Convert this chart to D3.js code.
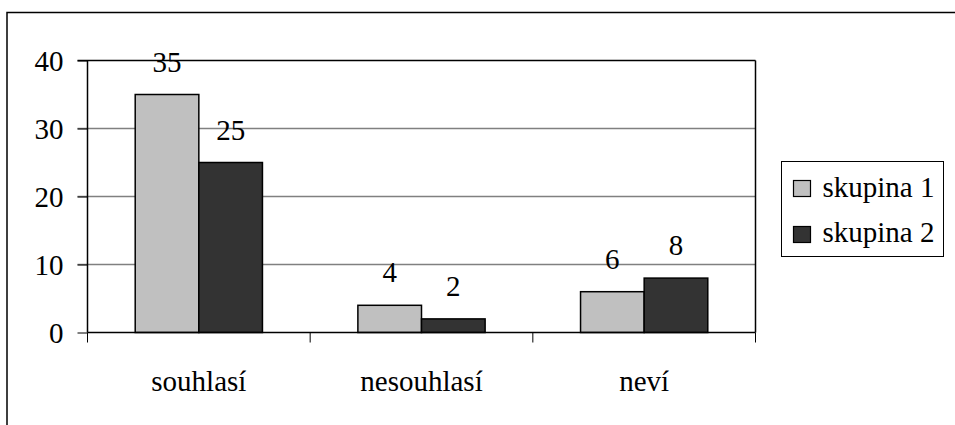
<!DOCTYPE html>
<html>
<head>
<meta charset="utf-8">
<script src="https://cdn.jsdelivr.net/npm/d3@7"></script>
<style>
html,body{margin:0;padding:0;background:#fff;}
svg{display:block;}
</style>
</head>
<body>
<svg id="chart" width="955" height="425"></svg>
<script>
const categories = ["souhlasí", "nesouhlasí", "neví"];
const seriesNames = ["skupina 1", "skupina 2"];
const skupina1 = [35, 4, 6];
const skupina2 = [25, 2, 8];
const yTicks = [0, 10, 20, 30, 40];
const colors = ["#c0c0c0", "#333333"];

const FONT = "Liberation Serif";
const svg = d3.select("#chart");
const plot = {left: 87.5, top: 60.5, right: 755.5, bottom: 332.5};
const fontSize = 29;

svg.append("rect").attr("x", 7).attr("y", 12.5).attr("width", 1000).attr("height", 1000)
  .attr("fill", "none").attr("stroke", "#000").attr("stroke-width", 1.5);

const x0 = d3.scaleBand().domain(categories).range([plot.left, plot.right]).paddingInner(0).paddingOuter(0);
const y = d3.scaleLinear().domain([0, 40]).range([plot.bottom, plot.top]);
const gapRatio = 1.5;
const barW = x0.bandwidth() / (2 + gapRatio);

svg.append("g").selectAll("line").data(yTicks.filter(d => d > 0)).join("line")
  .attr("x1", plot.left - 10).attr("x2", plot.right)
  .attr("y1", d => y(d)).attr("y2", d => y(d))
  .attr("stroke", d => d === 40 ? "#000" : "#808080").attr("stroke-width", 1.5);

svg.append("line").attr("x1", plot.right).attr("x2", plot.right).attr("y1", plot.top).attr("y2", plot.bottom)
  .attr("stroke", "#000").attr("stroke-width", 1.5);

const yAxis = d3.axisLeft(y).tickValues(yTicks).tickSize(10).tickPadding(14);
const ga = svg.append("g").attr("transform", `translate(${plot.left},0)`).call(yAxis);
ga.attr("font-family", FONT).attr("font-size", fontSize);
ga.select(".domain").attr("stroke", "#000").attr("stroke-width", 1.5).attr("d", `M0,${plot.top}V${plot.bottom}`);
ga.selectAll(".tick line").attr("stroke", "#000").attr("stroke-width", 1);
ga.selectAll(".tick text").attr("fill", "#000").attr("dy", "0.36em");

const data = categories.map((c, i) => ({cat: c, vals: [skupina1[i], skupina2[i]]}));
const groups = svg.append("g").selectAll("g").data(data).join("g");
groups.each(function(d) {
  const g = d3.select(this);
  const start = x0(d.cat) + barW * gapRatio / 2;
  d.vals.forEach((v, j) => {
    g.append("rect")
      .attr("x", start + j * barW).attr("y", y(v))
      .attr("width", barW).attr("height", y(0) - y(v))
      .attr("fill", colors[j]).attr("stroke", "#000").attr("stroke-width", 1.5);
    g.append("text")
      .attr("x", start + j * barW + barW / 2).attr("y", y(v) - 23)
      .attr("text-anchor", "middle").attr("font-family", FONT).attr("font-size", fontSize).text(v);
  });
});

const gx = svg.append("g").attr("transform", `translate(0,${plot.bottom})`);
gx.append("line").attr("x1", plot.left).attr("x2", plot.right).attr("y1", 0).attr("y2", 0)
  .attr("stroke", "#000").attr("stroke-width", 1.5);
const boundaries = [plot.left, ...categories.map(c => x0(c) + x0.bandwidth())];
gx.selectAll("line.tk").data(boundaries).join("line").attr("class", "tk")
  .attr("x1", d => d).attr("x2", d => d).attr("y1", 0).attr("y2", 10)
  .attr("stroke", "#000").attr("stroke-width", 1);
gx.selectAll("text.cat").data(categories).join("text").attr("class", "cat")
  .attr("x", d => x0(d) + x0.bandwidth() / 2).attr("y", 58.5)
  .attr("text-anchor", "middle").attr("font-family", FONT).attr("font-size", fontSize).text(d => d);

const lg = svg.append("g");
lg.append("rect").attr("x", 781.5).attr("y", 161.5).attr("width", 162).attr("height", 95)
  .attr("fill", "#fff").attr("stroke", "#000").attr("stroke-width", 1);
seriesNames.forEach((n, j) => {
  lg.append("rect").attr("x", 793.5).attr("y", 180.5 + j * 46).attr("width", 17).attr("height", 16)
    .attr("fill", colors[j]).attr("stroke", "#000").attr("stroke-width", 1.2);
  lg.append("text").attr("x", 822.5).attr("y", 197 + j * 45).attr("font-family", FONT).attr("font-size", fontSize).text(n);
});
</script>
</body>
</html>
